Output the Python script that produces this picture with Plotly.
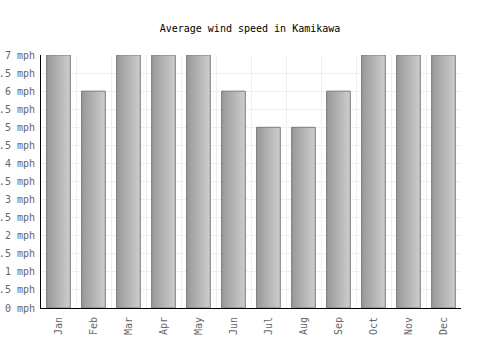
import plotly.graph_objects as go

months = ["Jan", "Feb", "Mar", "Apr", "May", "Jun", "Jul", "Aug", "Sep", "Oct", "Nov", "Dec"]
wind_mph = [7, 6, 7, 7, 7, 6, 5, 5, 6, 7, 7, 7]
y_ticks = [0, 0.5, 1, 1.5, 2, 2.5, 3, 3.5, 4, 4.5, 5, 5.5, 6, 6.5, 7]
y_tick_labels = ["0 mph", "0.5 mph", "1 mph", "1.5 mph", "2 mph", "2.5 mph", "3 mph", "3.5 mph",
                 "4 mph", "4.5 mph", "5 mph", "5.5 mph", "6 mph", "6.5 mph", "7 mph"]

FONT = "DejaVu Sans Mono"
bar_w = 0.67
n_slices = 24
c0, c1 = 0x98, 0xcc

fig = go.Figure()
for i in range(n_slices):
    t = i / (n_slices - 1)
    v = int(round(c0 + (c1 - c0) * t))
    fig.add_trace(go.Bar(
        x=months, y=wind_mph,
        width=bar_w / n_slices + 0.002,
        offset=-bar_w / 2 + i * bar_w / n_slices,
        marker=dict(color=f"rgb({v},{v},{v})", line=dict(width=0)),
        hoverinfo="skip", showlegend=False,
    ))
fig.add_trace(go.Bar(
    x=months, y=wind_mph, width=bar_w, offset=-bar_w / 2,
    marker=dict(color="rgba(0,0,0,0)", line=dict(color="#808080", width=1)),
    hoverinfo="skip", showlegend=False,
))

fig.update_layout(
    width=500, height=350,
    margin=dict(l=41, r=39, t=55, b=42),
    barmode="overlay",
    paper_bgcolor="white", plot_bgcolor="white",
    font=dict(family=FONT, size=10, color="#555555"),
    title=dict(text="Average wind speed in Kamikawa", x=0.5, xanchor="center",
               y=1 - 28 / 350, yanchor="middle",
               font=dict(family=FONT, size=10, color="#000000")),
    hovermode=False,
)
fig.update_xaxes(
    type="category", range=[-0.5, 11.5], tickson="boundaries",
    showgrid=True, gridcolor="#eeeeee", gridwidth=1,
    showline=True, linecolor="#000000", linewidth=1,
    ticks="", tickangle=-90, tickfont=dict(family=FONT, size=10, color="#666666"),
    zeroline=False, automargin=False, ticklabelstandoff=4,
)
fig.update_yaxes(
    range=[0, 7], tickvals=y_ticks, ticktext=y_tick_labels,
    showgrid=True, gridcolor="#eeeeee", gridwidth=1,
    showline=True, linecolor="#000000", linewidth=1,
    ticks="", tickfont=dict(family=FONT, size=10, color="#666666"),
    zeroline=False, automargin=False, ticklabelstandoff=3,
)

fig.write_html("out.html")
